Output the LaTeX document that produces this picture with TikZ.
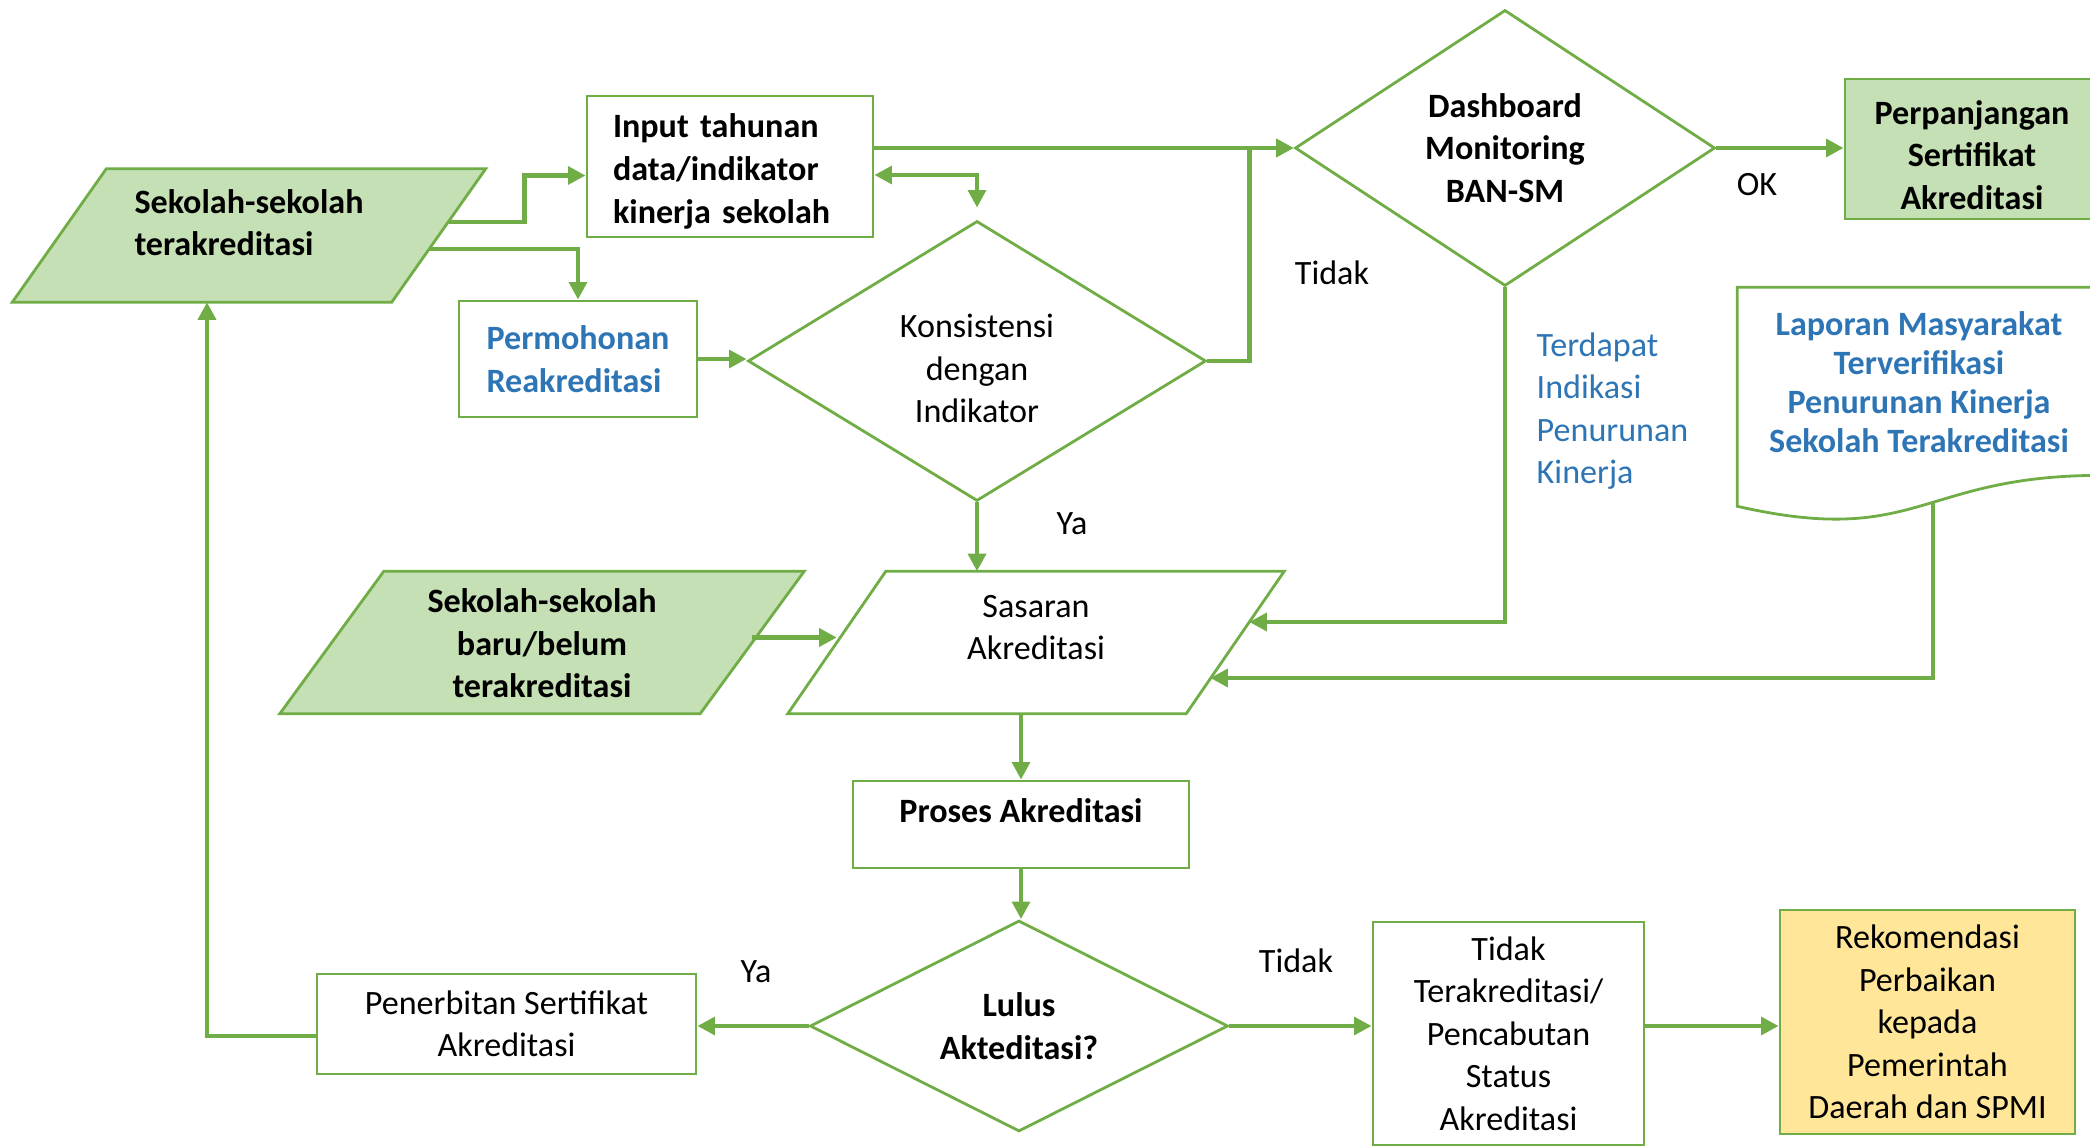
\documentclass[tikz,border=0pt]{standalone}
\usepackage{fontspec}
\setmainfont{Carlito}
\usepackage{tikz}
\usetikzlibrary{arrows.meta,shapes.geometric,positioning,calc,backgrounds}
\definecolor{LineGreen}{HTML}{70AD47}
\definecolor{FillGreen}{HTML}{C5E0B4}
\definecolor{FillYellow}{HTML}{FFE699}
\definecolor{TextBlue}{HTML}{2E75B6}
\newcommand{\bodysize}{\fontsize{9.7}{12.1}\selectfont}
% slanted outline behind a data node: #1 node, #2 slant (cm), #3 fill
\newcommand{\dataoutline}[3]{%
  \begin{scope}[on background layer]
    \draw[draw=LineGreen, line width=0.8pt, fill=#3]
      ($(#1.north west)+(#2/2,0)$) -- ($(#1.north east)+(#2/2,0)$) --
      ($(#1.south east)-(#2/2,0)$) -- ($(#1.south west)-(#2/2,0)$) -- cycle;
  \end{scope}}

\begin{document}
\begin{tikzpicture}[
    every node/.append style={font=\bodysize},
    box/.style={draw=LineGreen, line width=0.8pt, rectangle, inner sep=2pt, align=center},
    datain/.style={rectangle, inner xsep=1pt, inner ysep=0pt, align=center},
    decide/.style={draw=LineGreen, line width=0.8pt, diamond, inner sep=0pt, align=center},
    bold/.style={font=\bodysize\bfseries},
    flow/.style={draw=LineGreen, line width=1.3pt, -{Triangle[length=5pt,width=5pt]}},
    flowboth/.style={draw=LineGreen, line width=1.3pt, {Triangle[length=5pt,width=5pt]}-{Triangle[length=5pt,width=5pt]}},
    lbl/.style={inner sep=0pt}
  ]
  \useasboundingbox (0,0) rectangle (20.9,-11.47);
  \clip (0,0) rectangle (20.9,-11.47);

  % upper part
  \node[datain, bold, minimum width=3.78cm, minimum height=1.32cm, text height=0.77cm, text depth=0.36cm, align=left] (akr) at (2.49,-2.355) {Sekolah-sekolah\\terakreditasi};
  \dataoutline{akr}{0.94}{FillGreen}
  \node[box, bold, minimum width=2.86cm, minimum height=1.41cm, text width=2.34cm, text height=0.27cm, text depth=0.84cm, align=left] (input) at (7.30,-1.665) {Input tahunan\\data/indikator\\kinerja sekolah};
  \node[box, bold, text=TextBlue, minimum width=2.38cm, minimum height=1.16cm, align=left] (mohon) at (5.78,-3.59) {Permohonan\\Reakreditasi};
  \node[decide, aspect=1.64, minimum width=4.58cm, minimum height=2.80cm, text height=1.24cm, text depth=0cm] (konsis) at (9.77,-3.61) {Konsistensi\\dengan\\Indikator};
  \node[decide, bold, aspect=1.52, minimum width=4.20cm, minimum height=2.76cm] (dash) at (15.05,-1.48) {Dashboard\\Monitoring\\BAN-SM};
  \node[box, bold, fill=FillGreen, minimum width=2.54cm, minimum height=1.40cm, text height=1.21cm, text depth=0cm] (panjang) at (19.72,-1.49) {Perpanjangan\\Sertifikat\\Akreditasi};
  \node[inner sep=0pt, align=center, text=TextBlue, font=\fontsize{9.7}{11.1}\selectfont\bfseries,
        minimum width=3.62cm, minimum height=2.345cm, text height=1.60cm, text depth=0.66cm] (lapor) at (19.19,-4.0525) {Laporan Masyarakat\\Terverifikasi\\Penurunan Kinerja\\Sekolah Terakreditasi};
  \draw[draw=LineGreen, line width=0.8pt] (lapor.north west) -- (lapor.north east) -- ($(lapor.north east)+(0,-1.881)$)
    .. controls ($(lapor.north)+(0,-1.881)$) and ($(lapor.north)+(0,-2.605)$) .. ($(lapor.north west)+(0,-2.19)$) -- cycle;
  \node[lbl, text=TextBlue, align=left, anchor=west] (indikasi) at (15.36,-4.11) {Terdapat\\Indikasi\\Penurunan\\Kinerja};

  % middle part
  \node[datain, bold, minimum width=4.19cm, minimum height=1.41cm, text height=1.21cm, text depth=0.10cm] (baru) at (5.42,-6.425) {Sekolah-sekolah\\baru/belum\\terakreditasi};
  \dataoutline{baru}{1.04}{FillGreen}
  \node[datain, minimum width=3.97cm, minimum height=1.41cm, text height=0.75cm, text depth=0.40cm] (sasaran) at (10.36,-6.425) {Sasaran\\Akreditasi};
  \dataoutline{sasaran}{0.98}{white}
  \node[box, bold, minimum width=3.36cm, minimum height=0.87cm, text depth=0.27cm] (proses) at (10.21,-8.245) {Proses Akreditasi};

  % lower part
  \node[decide, bold, aspect=1.98, minimum width=4.18cm, minimum height=2.11cm] (lulus) at (10.19,-10.26) {Lulus\\Akteditasi?};
  \node[box, minimum width=3.79cm, minimum height=1.00cm] (terbit) at (5.065,-10.24) {Penerbitan Sertifikat\\Akreditasi};
  \node[box, minimum width=2.71cm, minimum height=2.23cm] (cabut) at (15.085,-10.335) {Tidak\\Terakreditasi/\\Pencabutan\\Status\\Akreditasi};
  \node[box, fill=FillYellow, minimum width=2.95cm, minimum height=2.24cm] (rekom) at (19.275,-10.22) {Rekomendasi\\Perbaikan\\kepada\\Pemerintah\\Daerah dan SPMI};

  % labels
  \node[lbl] (tidakA) at (13.32,-2.73) {Tidak};
  \node[lbl] (ok) at (17.57,-1.85) {OK};
  \node[lbl] (yaA) at (10.72,-5.24) {Ya};
  \node[lbl] (yaB) at (7.56,-9.72) {Ya};
  \node[lbl] (tidakB) at (12.96,-9.61) {Tidak};

  % connectors
  \draw[flow] ([shift={(0.1,0.135)}]akr.east) -- ++(0.76,0) |- ([yshift=-0.09cm]input.west);
  \draw[flow] ([shift={(-0.1,-0.135)}]akr.east) -| (mohon.north);
  \draw[flow] (input.east |- dash.west) -- (dash.west);
  \draw[flowboth] (input.east |- 0,-1.75) -| ([yshift=0.12cm]konsis.north);
  \draw[flow] (konsis.east) -- ++(0.42,0) |- (dash.west);
  \draw[flow] (mohon.east) -- (mohon.east -| konsis.west);
  \draw[flow] (konsis.south) -- (konsis.south |- sasaran.north);
  \draw[flow] (dash.east) -- (panjang.west |- dash.east);
  \draw[flow] (dash.south) |- ([shift={(0.14,0.205)}]sasaran.east);
  \draw[flow] ([shift={(0.14,0.2)}]lapor.south) |- ([shift={(-0.25,-0.355)}]sasaran.east);
  \draw[flow] ([yshift=0.05cm]baru.east) -- ([yshift=0.05cm]sasaran.west);
  \draw[flow] (proses.north |- sasaran.south) -- (proses.north);
  \draw[flow] (proses.south) -- (proses.south |- lulus.north);
  \draw[flow] (lulus.west) -- (lulus.west -| terbit.east);
  \draw[flow] (lulus.east) -- (lulus.east -| cabut.west);
  \draw[flow] (cabut.east |- lulus.east) -- (rekom.west |- lulus.east);
  \draw[flow] ([yshift=-0.12cm]terbit.west) -| ([xshift=-0.42cm]akr.south);
\end{tikzpicture}
\end{document}
